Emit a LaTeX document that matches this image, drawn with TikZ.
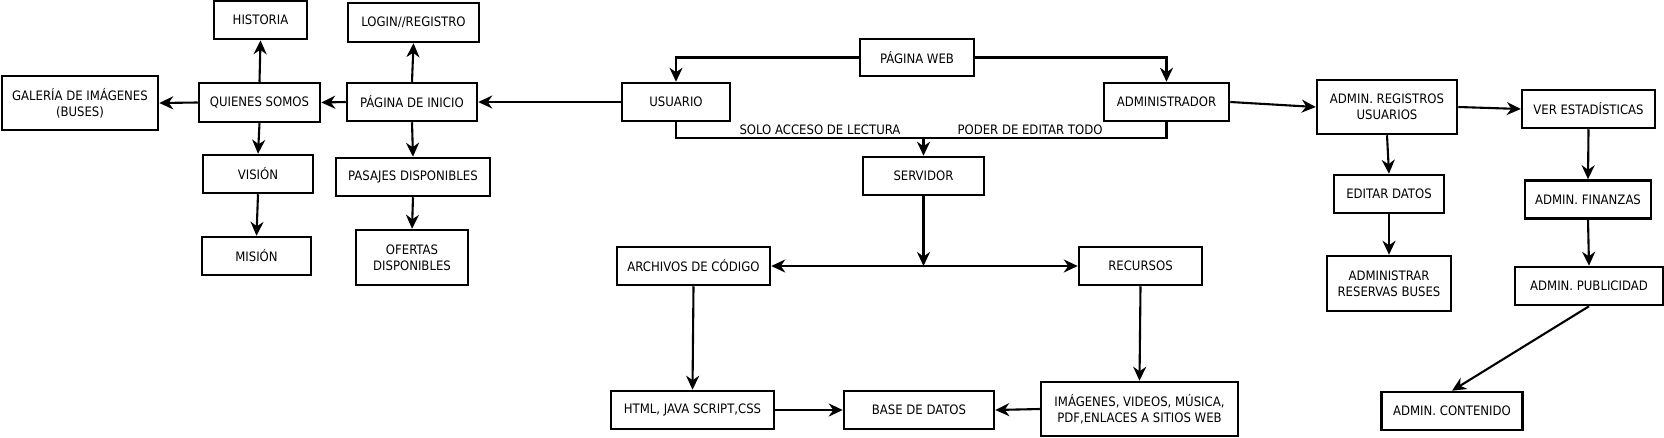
\documentclass[tikz,border=0pt]{standalone}
\usepackage{fontspec}
\setmainfont{DejaVu Sans Condensed}
\usetikzlibrary{arrows.meta}
\tikzset{
  box/.style={draw, line width=2.5pt, inner sep=0pt, align=center, font=\fontsize{13}{16}\selectfont},
  conn/.style={line width=2.1pt},
  arr/.style={line width=2.1pt, -{Stealth[length=14pt,width=13pt,inset=4.5pt]}},
  darr/.style={line width=2.1pt, {Stealth[length=14pt,width=13pt,inset=4.5pt]}-{Stealth[length=14pt,width=13pt,inset=4.5pt]}},
  lbl/.style={inner sep=0pt, font=\fontsize{13}{16}\selectfont}
}
\begin{document}
\begin{tikzpicture}[x=1pt,y=-1pt]
\useasboundingbox (0,0) rectangle (1664,437);
% left group
\node[box, minimum width=93pt, minimum height=38pt] (historia) at (260.5,20) {HISTORIA};
\node[box, minimum width=131pt, minimum height=39pt] (login) at (413.5,22.5) {LOGIN//REGISTRO};
\node[box, minimum width=156pt, minimum height=54pt] (galeria) at (80,103) {GALERÍA DE IMÁGENES\\(BUSES)};
\node[box, minimum width=121pt, minimum height=39pt] (quienes) at (259.5,102.5) {QUIENES SOMOS};
\node[box, minimum width=130pt, minimum height=38pt] (inicio) at (412,102) {PÁGINA DE INICIO};
\node[box, minimum width=110pt, minimum height=38pt] (vision) at (258,174) {VISIÓN};
\node[box, minimum width=109pt, minimum height=38pt] (mision) at (256.5,256) {MISIÓN};
\node[box, minimum width=154pt, minimum height=38pt] (pasajes) at (413,177) {PASAJES DISPONIBLES};
\node[box, minimum width=112pt, minimum height=55pt] (ofertas) at (412,257.5) {OFERTAS\\DISPONIBLES};
% center
\node[box, minimum width=108pt, minimum height=38pt] (usuario) at (676,102) {USUARIO};
\node[box, minimum width=114pt, minimum height=37pt] (web) at (917,57.5) {PÁGINA WEB};
\node[box, minimum width=125pt, minimum height=38pt] (admin) at (1166.5,102) {ADMINISTRADOR};
\node[box, minimum width=121pt, minimum height=38pt] (servidor) at (923.5,176) {SERVIDOR};
\node[box, minimum width=153pt, minimum height=38pt] (archivos) at (693.5,266) {ARCHIVOS DE CÓDIGO};
\node[box, minimum width=123pt, minimum height=38pt] (recursos) at (1140.5,266) {RECURSOS};
\node[box, minimum width=163pt, minimum height=38pt] (html) at (692.5,410) {HTML, JAVA SCRIPT,CSS};
\node[box, minimum width=150pt, minimum height=38pt] (base) at (919,410) {BASE DE DATOS};
\node[box, minimum width=197pt, minimum height=54pt] (imagenes) at (1139.5,409) {IMÁGENES, VIDEOS, MÚSICA,\\PDF,ENLACES A SITIOS WEB};
\node[lbl] (solo) at (820,129.5) {SOLO ACCESO DE LECTURA};
\node[lbl] (poder) at (1030,129.5) {PODER DE EDITAR TODO};
% right group
\node[box, minimum width=140pt, minimum height=54pt] (adminreg) at (1387,107) {ADMIN. REGISTROS\\USUARIOS};
\node[box, minimum width=133pt, minimum height=38pt] (ver) at (1588.5,109) {VER ESTADÍSTICAS};
\node[box, minimum width=110pt, minimum height=38pt] (editar) at (1389,194) {EDITAR DATOS};
\node[box, minimum width=124pt, minimum height=55pt] (reservas) at (1389,283.5) {ADMINISTRAR\\RESERVAS BUSES};
\node[box, minimum width=126pt, minimum height=38pt] (finanzas) at (1588,199.5) {ADMIN. FINANZAS};
\node[box, minimum width=148pt, minimum height=38pt] (publicidad) at (1589,286) {ADMIN. PUBLICIDAD};
\node[box, minimum width=141pt, minimum height=38pt] (contenido) at (1452,411) {ADMIN. CONTENIDO};
% coordinates
\coordinate (brk) at (923.5,138);
\coordinate (jn) at (923.5,266);
% connectors
\draw[arr] (web.west) -| (usuario.north);
\draw[arr] (web.east) -| (admin.north);
\draw[conn] (usuario.south) |- (brk) -| (admin.south);
\draw[arr] (brk) -- (servidor.north);
\draw[arr] (servidor.south) -- (jn);
\draw[darr] (archivos.east) -- (recursos.west);
\draw[arr] (archivos.south) -- (html.north);
\draw[arr] (recursos.south) -- (imagenes.north);
\draw[arr] (html.east) -- (base.west);
\draw[arr] (imagenes.west) -- (base.east);
\draw[arr] (usuario.west) -- (inicio.east);
\draw[arr] (inicio.west) -- (quienes.east);
\draw[arr] (quienes.west) -- (galeria.east);
\draw[arr] (quienes.north) -- (historia.south);
\draw[arr] (inicio.north) -- (login.south);
\draw[arr] (quienes.south) -- (vision.north);
\draw[arr] (vision.south) -- (mision.north);
\draw[arr] (inicio.south) -- (pasajes.north);
\draw[arr] (pasajes.south) -- (ofertas.north);
\draw[arr] (admin.east) -- (adminreg.west);
\draw[arr] (adminreg.east) -- (ver.west);
\draw[arr] (adminreg.south) -- (editar.north);
\draw[arr] (editar.south) -- (reservas.north);
\draw[arr] (ver.south) -- (finanzas.north);
\draw[arr] (finanzas.south) -- (publicidad.north);
\draw[arr] (publicidad.south) -- (contenido.north);
\end{tikzpicture}
\end{document}
